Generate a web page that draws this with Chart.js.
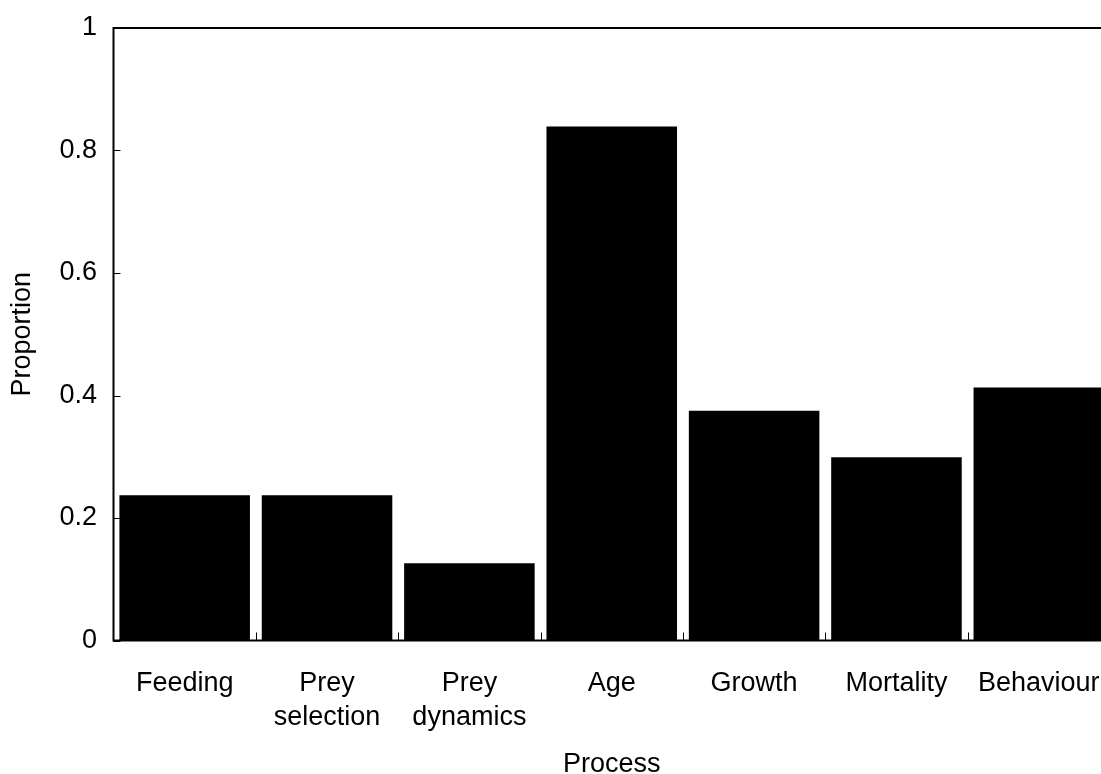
<!DOCTYPE html>
<html>
<head>
<meta charset="utf-8">
<script src="https://cdn.jsdelivr.net/npm/chart.js@4/dist/chart.umd.min.js"></script>
<style>
  html, body { margin: 0; padding: 0; background: #ffffff; overflow: hidden; }
  #wrap { width: 1120px; height: 774px; }
</style>
</head>
<body>
<div id="wrap"><canvas id="c" width="1120" height="774"></canvas></div>
<script>
const categories = [
  ['Feeding'],
  ['Prey', 'selection'],
  ['Prey', 'dynamics'],
  ['Age'],
  ['Growth'],
  ['Mortality'],
  ['Behaviour']
];
const proportions = [0.237, 0.237, 0.126, 0.839, 0.375, 0.299, 0.413];
const yTicks = [0, 0.2, 0.4, 0.6, 0.8, 1];
const xTitle = 'Process';
const yTitle = 'Proportion';

const FONT = '"Liberation Sans", Arial, sans-serif';
const FS = 27;

const framePlugin = {
  id: 'frame',
  afterDatasetsDraw(chart) {
    const ctx = chart.ctx;
    const a = chart.chartArea;
    const xs = chart.scales.x;
    const ys = chart.scales.y;
    ctx.save();
    ctx.strokeStyle = '#000';
    ctx.lineWidth = 1;
    for (let i = 1; i < categories.length; i++) {
      const px = Math.round((xs.getPixelForValue(i - 1) + xs.getPixelForValue(i)) / 2) + 0.5;
      ctx.beginPath();
      ctx.moveTo(px, a.bottom);
      ctx.lineTo(px, a.bottom - 8);
      ctx.stroke();
    }
    yTicks.forEach(v => {
      const py = Math.round(ys.getPixelForValue(v)) + 0.5;
      ctx.beginPath();
      ctx.moveTo(a.left, py);
      ctx.lineTo(a.left + 7, py);
      ctx.stroke();
    });
    ctx.lineWidth = 2;
    ctx.strokeRect(a.left, a.top, a.right - a.left, a.bottom - a.top);
    ctx.restore();
  }
};

new Chart(document.getElementById('c'), {
  type: 'bar',
  data: {
    labels: categories,
    datasets: [{
      data: proportions,
      backgroundColor: '#000000',
      borderWidth: 0,
      barPercentage: 0.917,
      categoryPercentage: 1.0
    }]
  },
  options: {
    responsive: false,
    animation: false,
    devicePixelRatio: 1,
    layout: { padding: { top: 28, right: 10, left: 0, bottom: 0 } },
    plugins: { legend: { display: false }, tooltip: { enabled: false } },
    scales: {
      x: {
        grid: { display: false, drawTicks: false },
        border: { display: false },
        ticks: {
          color: '#000',
          font: { family: FONT, size: FS, lineHeight: 1.26 },
          padding: 26.5,
          maxRotation: 0,
          autoSkip: false
        },
        title: {
          display: true,
          text: xTitle,
          color: '#000',
          font: { family: FONT, size: FS, lineHeight: 1 },
          padding: { top: 0, bottom: -4 }
        },
        afterFit(scale) {
          scale.height = 133.5;
          scale.paddingLeft = 0; scale.paddingRight = 0;
        }
      },
      y: {
        min: 0,
        max: 1,
        grid: { display: false, drawTicks: false },
        border: { display: false },
        afterBuildTicks(scale) { scale.ticks = yTicks.map(v => ({ value: v })); },
        ticks: {
          color: '#000',
          font: { family: FONT, size: FS },
          padding: 16.5,
          callback: v => String(v)
        },
        title: {
          display: true,
          text: yTitle,
          color: '#000',
          font: { family: FONT, size: FS, lineHeight: 1 },
          padding: { top: 9.5, bottom: 0 }
        },
        afterFit(scale) {
          scale.width = 113.5;
          scale.paddingTop = 0; scale.paddingBottom = 0;
        }
      }
    }
  },
  plugins: [framePlugin]
});
</script>
</body>
</html>
